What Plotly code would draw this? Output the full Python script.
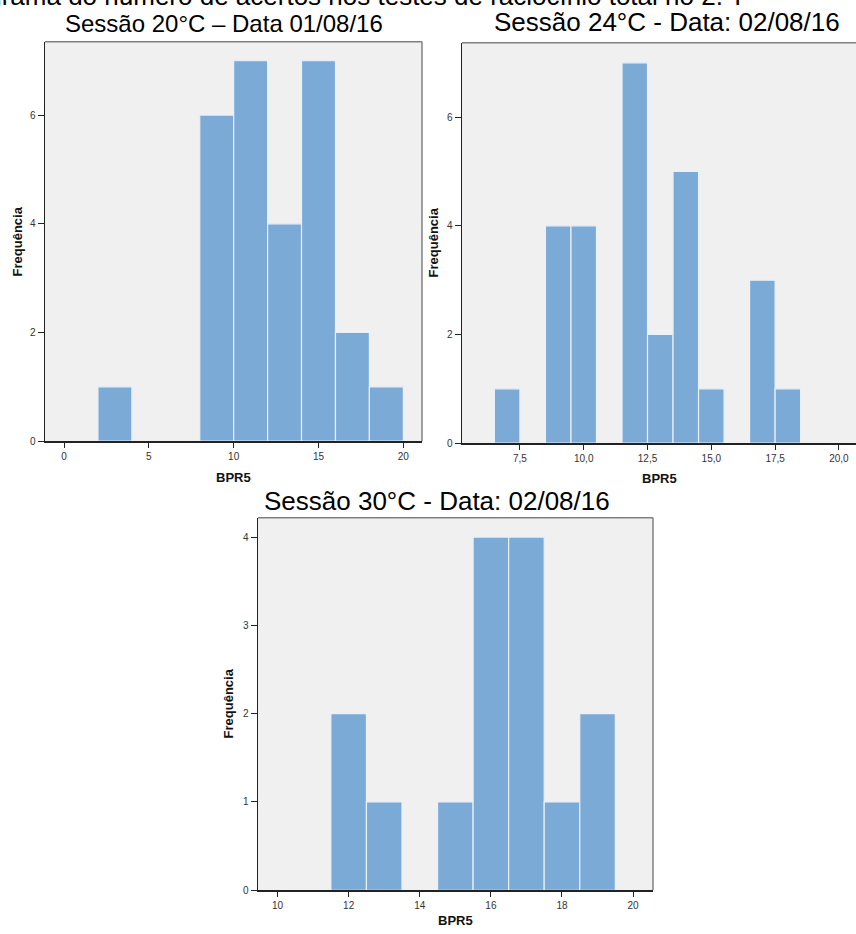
import plotly.graph_objects as go

W, H = 856, 934

# ---- data ----
s1_centers = [3, 9, 11, 13, 15, 17, 19]
s1_counts = [1, 6, 7, 4, 7, 2, 1]
s1_width = 2

s2_centers = [7, 9, 10, 12, 13, 14, 15, 17, 18]
s2_counts = [1, 4, 4, 7, 2, 5, 1, 3, 1]
s2_width = 1

s3_centers = [12, 13, 15, 16, 17, 18, 19]
s3_counts = [2, 1, 1, 4, 4, 1, 2]
s3_width = 1

x1_ticks = [0, 5, 10, 15, 20]
x2_ticks = [7.5, 10.0, 12.5, 15.0, 17.5, 20.0]
x3_ticks = [10, 12, 14, 16, 18, 20]
y1_ticks = [0, 2, 4, 6]
y2_ticks = [0, 2, 4, 6]
y3_ticks = [0, 1, 2, 3, 4]

titles = ["Sessão 20°C – Data 01/08/16", "Sessão 24°C - Data: 02/08/16", "Sessão 30°C - Data: 02/08/16"]
top_text = "Histograma do número de acertos nos testes de raciocínio total no 2. T"

BAR = "#7BAAD6"
EDGE = "#E8F0F8"
FONT = "Liberation Sans, Arial, sans-serif"


def px_x(p):
    return p / W


def px_y(p):
    return 1 - p / H


fig = go.Figure()
for i, (c, v, w) in enumerate([(s1_centers, s1_counts, s1_width),
                                (s2_centers, s2_counts, s2_width),
                                (s3_centers, s3_counts, s3_width)]):
    sfx = "" if i == 0 else str(i + 1)
    fig.add_trace(go.Bar(x=c, y=v, width=[w] * len(c),
                         marker=dict(color=BAR, line=dict(color=EDGE, width=1.2)),
                         xaxis="x" + sfx, yaxis="y" + sfx, hoverinfo="skip",
                         showlegend=False))

axis_common = dict(showgrid=False, zeroline=False, showline=True, linecolor="#222",
                   linewidth=1.5, ticks="outside", ticklen=5, tickwidth=1,
                   tickcolor="#222", tickfont=dict(size=10, color="#333", family=FONT),
                   fixedrange=True)

# plot boxes in px
boxes = [
    (45, 422, 42, 444),
    (462, 856, 43, 446),
    (258, 653, 521, 896),
]
xranges = [[-1.12, 21.1], [5.23, 20.67], [9.45, 20.56]]
yranges = [[0, 7.35], [0, 7.37], [0, 4.22]]
xticks = [x1_ticks, x2_ticks, x3_ticks]
yticks = [y1_ticks, y2_ticks, y3_ticks]
xfmt = ["d", ".1f", "d"]

layout = {}
for i in range(3):
    sfx = "" if i == 0 else str(i + 1)
    l, r, t, b = boxes[i]
    layout["xaxis" + sfx] = dict(axis_common, domain=[px_x(l), px_x(r)], range=xranges[i],
                                 tickvals=xticks[i], tickformat=xfmt[i],
                                 anchor="y" + sfx)
    layout["yaxis" + sfx] = dict(axis_common, domain=[px_y(b), px_y(t)], range=yranges[i],
                                 tickvals=yticks[i], anchor="x" + sfx, ticklen=6)

fig.update_layout(**layout)

shapes = []
# gray frames (top/right)
for i, sfx in enumerate(["", "2", "3"]):
    xr = "x" + sfx + " domain"
    yr = "y" + sfx + " domain"
    shapes.append(dict(type="line", xref=xr, yref=yr, x0=0, x1=1, y0=1, y1=1,
                       line=dict(color="#808080", width=1.5), layer="below"))
    if i != 1:
        shapes.append(dict(type="line", xref=xr, yref=yr, x0=1, x1=1, y0=0, y1=1,
                           line=dict(color="#808080", width=1.5), layer="below"))

annotations = []
# top cut-off caption
annotations.append(dict(text=top_text, xref="paper", yref="paper", x=px_x(-74), y=px_y(13),
                        xanchor="left", yanchor="bottom", showarrow=False,
                        font=dict(size=26, color="#000", family=FONT)))
title_pos = [(224, 39.5, 24), (667, 39.5, 26), (436.5, 521.5, 26)]
for t, (cx, by, fs) in zip(titles, title_pos):
    annotations.append(dict(text=t, xref="paper", yref="paper", x=px_x(cx), y=px_y(by),
                            xanchor="center", yanchor="bottom", showarrow=False,
                            font=dict(size=fs, color="#000", family=FONT)))
ylab_pos = [(17, 243), (433, 244), (228, 708)]
for (cx, cy) in ylab_pos:
    annotations.append(dict(text="<b>Frequência</b>", xref="paper", yref="paper",
                            x=px_x(cx), y=px_y(cy), xanchor="center", yanchor="middle",
                            textangle=-90, showarrow=False,
                            font=dict(size=13, color="#111", family=FONT)))
xlab_pos = [(233.5, 481), (659, 482), (455.5, 926)]
for (cx, cy) in xlab_pos:
    annotations.append(dict(text="<b>BPR5</b>", xref="paper", yref="paper",
                            x=px_x(cx), y=px_y(cy), xanchor="center", yanchor="middle",
                            showarrow=False, font=dict(size=13, color="#111", family=FONT)))

fig.update_layout(width=W, height=H, margin=dict(l=0, r=0, t=0, b=0),
                  paper_bgcolor="white", plot_bgcolor="#F0F0F0",
                  separators=",.", shapes=shapes, annotations=annotations,
                  font=dict(family=FONT), barmode="overlay")

fig.write_html("out.html", config={"displayModeBar": False, "staticPlot": True},
               post_script="document.body.style.margin='0';document.body.style.overflow='hidden';")
